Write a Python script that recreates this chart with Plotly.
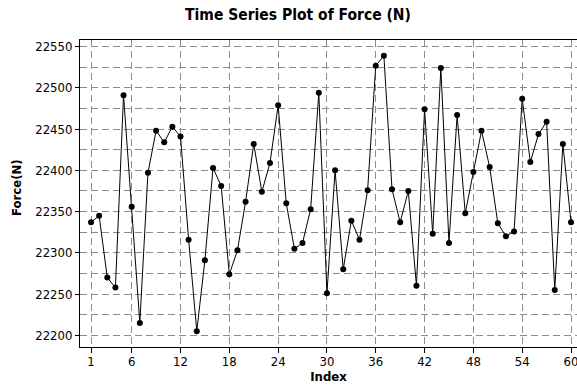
import plotly.graph_objects as go

index = list(range(1, 61))
force = [22337, 22345, 22270, 22258, 22491, 22356, 22215, 22397, 22448, 22434,
         22453, 22441, 22316, 22205, 22291, 22403, 22381, 22274, 22303, 22362,
         22432, 22374, 22409, 22479, 22360, 22305, 22312, 22353, 22494, 22251,
         22400, 22280, 22339, 22316, 22376, 22527, 22539, 22377, 22337, 22375,
         22260, 22474, 22323, 22524, 22312, 22467, 22348, 22398, 22448, 22404,
         22336, 22320, 22326, 22487, 22410, 22444, 22459, 22255, 22432, 22337]
x_ticks = [1, 6, 12, 18, 24, 30, 36, 42, 48, 54, 60]
y_ticks = [22200, 22250, 22300, 22350, 22400, 22450, 22500, 22550]

FONT = "DejaVu Sans Condensed, DejaVu Sans, sans-serif"
GRID = "#8c8c8c"
DASH = "7px,4px"

fig = go.Figure()
fig.add_trace(go.Scatter(
    x=index, y=force, mode="lines+markers",
    line=dict(color="black", width=1),
    marker=dict(color="black", size=6),
    hoverinfo="x+y", showlegend=False,
))

fig.update_layout(
    width=577, height=385,
    margin=dict(l=80, r=0, t=40, b=38),
    paper_bgcolor="white", plot_bgcolor="white",
    font=dict(family=FONT, size=13, color="black"),
    title=dict(text="<b>Time Series Plot of Force (N)</b>",
               x=298 / 577, xref="container", xanchor="center",
               y=1 - 15 / 385, yref="container", yanchor="middle",
               font=dict(family=FONT, size=15.5, color="black")),
    xaxis=dict(
        range=[-0.352, 60.735], tickvals=x_ticks, ticktext=[str(v) for v in x_ticks],
        showline=True, linecolor="black", linewidth=1, mirror=True,
        ticks="outside", ticklen=5, tickcolor="black",
        ticklabeloverflow="allow", ticklabelstandoff=-3,
        showgrid=True, gridcolor=GRID, griddash=DASH, gridwidth=1,
        zeroline=False,
        title=dict(text="<b>Index</b>", standoff=2, font=dict(family=FONT, size=13)),
        tickfont=dict(family=FONT, size=13),
    ),
    yaxis=dict(
        range=[22185.8, 22558.1], tickvals=y_ticks, ticktext=[str(v) for v in y_ticks],
        showline=True, linecolor="black", linewidth=1, mirror=False,
        ticks="outside", ticklen=4, tickcolor="black",
        showgrid=True, gridcolor=GRID, griddash=DASH, gridwidth=1,
        minor=dict(dtick=25, tick0=22200, showgrid=True, gridcolor=GRID,
                   griddash=DASH, gridwidth=1, ticks=""),
        zeroline=False,
        tickfont=dict(family=FONT, size=13),
    ),
    annotations=[dict(
        text="<b>Force(N)</b>", textangle=-90, showarrow=False,
        xref="paper", yref="paper", x=-(80 - 16) / 497, y=(347 - 188) / 307,
        xanchor="center", yanchor="middle",
        font=dict(family=FONT, size=13, color="black"),
    )],
)

fig.write_html("out.html")
